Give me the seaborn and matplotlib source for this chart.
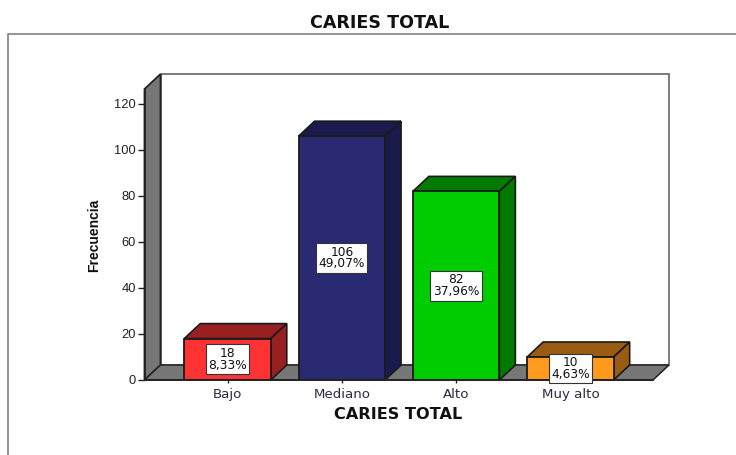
import matplotlib
matplotlib.use("Agg")
import matplotlib.pyplot as plt
from matplotlib.lines import Line2D
from matplotlib.patches import Polygon
import pandas as pd
import seaborn as sns

categories = ["Bajo", "Mediano", "Alto", "Muy alto"]
frequencies = [18, 106, 82, 10]
percentages = ["8,33%", "49,07%", "37,96%", "4,63%"]
front_colors = ["#FF3333", "#2A2A72", "#00CC00", "#FF9A1E"]
shade_colors = ["#992020", "#1A1A4C", "#007A00", "#995C12"]
y_ticks = [0, 20, 40, 60, 80, 100, 120]
title_text = "CARIES TOTAL"

W, H = 736, 455
sns.set_style("white")
plt.rcParams["font.family"] = ["Liberation Sans", "DejaVu Sans"]

fig = plt.figure(figsize=(W / 100, H / 100), dpi=100)
L, R, T, B = 144.5, 669.0, 74.0, 380.0
ax = fig.add_axes([L / W, 1 - B / H, (R - L) / W, (B - T) / H])

df = pd.DataFrame({"cat": categories, "freq": frequencies})
sns.barplot(data=df, x="cat", y="freq", hue="cat", palette=front_colors,
            width=0.757, legend=False, ax=ax, zorder=5,
            edgecolor="#1a1a1a", linewidth=1.3, saturation=1)

px_x, px_y = 114.3, 2.3
x0 = (L - 227.5) / px_x
x1 = (R - 227.5) / px_x
y1 = (B - T) / px_y
dx, dy = 16 / px_x, 15 / px_y
ax.set_xlim(x0, x1)
ax.set_ylim(0, y1)

wall = "#777777"
edge = "#222222"
ax.add_patch(Polygon([(x0 + dx, dy), (x1, dy), (x1, y1), (x0 + dx, y1)],
                     fc="white", ec="#666666", lw=1.2, zorder=1, clip_on=False))
ax.add_patch(Polygon([(x0, 0), (x0 + dx, dy), (x0 + dx, y1), (x0, y1 - dy)],
                     fc=wall, ec=edge, lw=1.3, zorder=2, clip_on=False))
ax.add_patch(Polygon([(x0, 0), (x1 - dx, 0), (x1, dy), (x0 + dx, dy)],
                     fc=wall, ec=edge, lw=1.1, zorder=2, clip_on=False))

bars = sorted([c[0] for c in ax.containers], key=lambda p: p.get_x())
for bar, shade, val, pct in zip(bars, shade_colors, frequencies, percentages):
    a, w, h = bar.get_x(), bar.get_width(), bar.get_height()
    ax.add_patch(Polygon([(a, h), (a + dx, h + dy), (a + w + dx, h + dy), (a + w, h)],
                         fc=shade, ec="#1a1a1a", lw=1.2, zorder=4, clip_on=False))
    ax.add_patch(Polygon([(a + w, 0), (a + w + dx, dy), (a + w + dx, h + dy), (a + w, h)],
                         fc=shade, ec="#1a1a1a", lw=1.2, zorder=4, clip_on=False))
    ax.text(a + w / 2, h / 2, f"{val}\n{pct}", ha="center", va="center", fontsize=8.8,
            family="DejaVu Sans", color="#111111", linespacing=0.88, zorder=7,
            bbox=dict(boxstyle="square,pad=0.2", fc="white", ec="#333333", lw=0.8))

for s in ("top", "right"):
    ax.spines[s].set_visible(False)
ax.spines["left"].set_bounds(0, y1 - dy)
ax.spines["bottom"].set_bounds(x0, x1 - dx)
for s in ("left", "bottom"):
    ax.spines[s].set_color(edge)
    ax.spines[s].set_linewidth(1.3)
    ax.spines[s].set_zorder(6)

ax.set_yticks(y_ticks)
ax.tick_params(axis="y", left=True, length=5, width=1, color=edge, labelsize=9.3,
               labelcolor="#222222", pad=1)
ax.tick_params(axis="x", bottom=True, length=2.5, width=1, color=edge, labelsize=9.6,
               labelcolor="#2a2a44", pad=3)
for lab in ax.get_xticklabels():
    lab.set_family("DejaVu Sans")
ax.set_xlabel("")
ax.set_ylabel("")
fig.text(398 / W, 1 - 414.5 / H, title_text, ha="center", va="center", fontsize=11.6,
         fontweight="bold", family="DejaVu Sans", color="#111111")
fig.text(94 / W, 1 - 235 / H, "Frecuencia", rotation=90, ha="center", va="center",
         fontsize=10, fontweight="bold", color="#111111")
fig.text(379.5 / W, 1 - 22.5 / H, title_text, ha="center", va="center", fontsize=12.6,
         fontweight="bold", family="DejaVu Sans", color="#111111")

fig.add_artist(Line2D([8.2 / W, 8.2 / W, 1], [0, 1 - 34.2 / H, 1 - 34.2 / H],
                      color="#8a8a8a", lw=1.3, transform=fig.transFigure))

fig.savefig("out.png", dpi=100)
